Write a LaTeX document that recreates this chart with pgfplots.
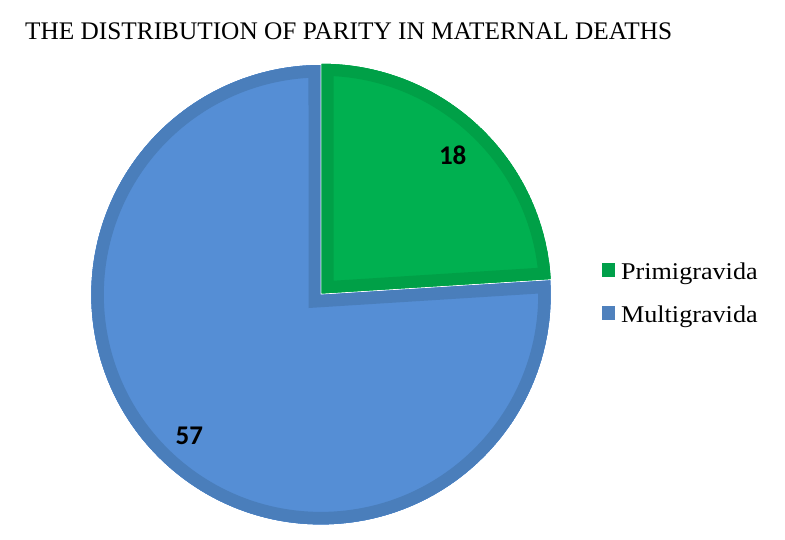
\documentclass[border=0pt]{standalone}
\usepackage{pgfplots}
\usepackage{pgfplotstable}
\pgfplotsset{compat=1.18}
\usepackage{fontspec}
\setmainfont{Liberation Serif}
\newfontfamily\legfont[FakeStretch=1.09]{Liberation Serif}
\newfontfamily\carlito{Carlito}
\definecolor{gfill}{HTML}{00B050}
\definecolor{gdark}{HTML}{00A047}
\definecolor{bfill}{HTML}{558ED5}
\definecolor{bdark}{HTML}{4A7EBB}
\definecolor{glegend}{HTML}{00A04A}
\definecolor{blegend}{HTML}{4F81BD}
\pgfplotstableread{
label value
Primigravida 18
Multigravida 57
}\datatable
\begin{document}%
\begin{tikzpicture}
\pgfplotstablegetelem{0}{value}\of\datatable \let\va\pgfplotsretval
\pgfplotstablegetelem{1}{value}\of\datatable \let\vb\pgfplotsretval
\pgfmathsetmacro{\total}{\va+\vb}
\pgfmathsetmacro{\angA}{90-360/\total*\va}
\pgfmathsetmacro{\angB}{\angA-360/\total*\vb}
\begin{axis}[
  hide axis, scale only axis, clip=false,
  x=1pt, y=1pt,
  xmin=0, xmax=785, ymin=0, ymax=539,
  legend style={draw=none, fill=none, at={(axis cs:601.5,276.1)}, anchor=north west,
    font=\legfont\fontsize{24}{27}\selectfont, row sep=25pt, inner sep=0pt,
    nodes={inner sep=0pt},
    /tikz/every odd column/.append style={column sep=6pt}},
  legend cell align=left,
  legend image code/.code={\fill[#1, draw=none] (0pt,-4.4pt) rectangle (13.4pt,9pt);},
]
\coordinate (BL) at (axis cs:0,0);
\coordinate (TR) at (axis cs:785,539);
% slices
\addplot[draw=none, fill=bfill, forget plot,
  postaction={clip, postaction={draw=bdark, line width=25pt}}]
  coordinates {(321,244.3)} -- ++(\angA:229.7pt) arc[start angle=\angA, end angle=\angB, radius=229.7pt] -- cycle;
\addplot[draw=none, fill=gfill, forget plot,
  postaction={draw=white, line width=1.6pt},
  postaction={clip, postaction={draw=gdark, line width=24pt}}]
  coordinates {(321.5,245.5)} -- ++(90:229.7pt) arc[start angle=90, end angle=\angA, radius=229.7pt] -- cycle;
\addlegendimage{fill=glegend}
\addlegendentry{Primigravida}
\addlegendimage{fill=blegend}
\addlegendentry{Multigravida}
\node[anchor=center, inner sep=0pt, font=\carlito\bfseries\fontsize{27}{30}\selectfont] at (axis cs:452.7,383.5) {\va};
\node[anchor=center, inner sep=0pt, font=\carlito\bfseries\fontsize{27}{30}\selectfont] at (axis cs:189.3,103.3) {\vb};
\node[anchor=base west, inner sep=0pt, font=\fontsize{25.3}{30}\selectfont] at (axis cs:25,499) {THE DISTRIBUTION OF PARITY IN MATERNAL DEATHS};
\end{axis}
\pgfresetboundingbox
\path[use as bounding box] (BL) rectangle (TR);
\end{tikzpicture}%
\end{document}
